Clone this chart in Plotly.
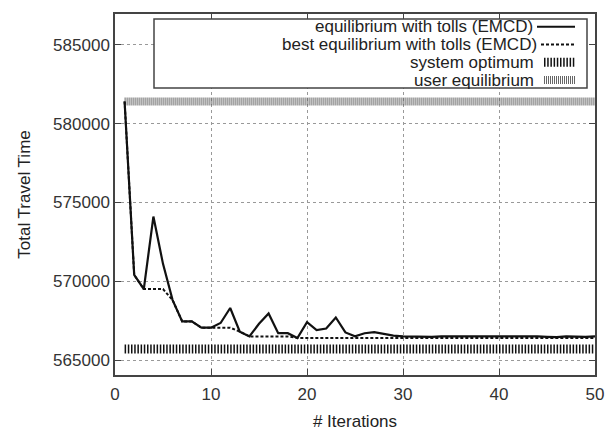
import plotly.graph_objects as go

iterations = list(range(1, 51))
emcd = [581400, 570400, 569500, 574100, 571100, 568800, 567450, 567450, 567050, 567050,
        567350, 568300, 566800, 566500, 567300, 567950, 566700, 566700, 566400, 567400,
        566900, 567000, 567700, 566750, 566500, 566700, 566770, 566650, 566550, 566500,
        566480, 566500, 566470, 566500, 566500, 566480, 566520, 566500, 566480, 566520,
        566500, 566480, 566480, 566500, 566470, 566450, 566500, 566480, 566470, 566500]
best_emcd = [581400, 570400, 569500, 569500, 569500, 568800, 567450, 567450, 567050, 567050,
             567050, 567050, 566800, 566500, 566500, 566500, 566500, 566500, 566400, 566400,
             566400, 566400, 566400, 566400, 566400, 566400, 566400, 566400, 566400, 566400,
             566400, 566400, 566400, 566400, 566400, 566400, 566400, 566400, 566400, 566400,
             566400, 566400, 566400, 566400, 566400, 566400, 566400, 566400, 566400, 566400]
system_optimum = 565700
user_equilibrium = 581400
so_x = [1, 50]
ue_x = [1, 50]

legend_labels = ["equilibrium with tolls (EMCD)", "best equilibrium with tolls (EMCD)",
                 "system optimum", "user equilibrium"]

FONT = "Liberation Sans, Arial, sans-serif"
FS = 17

fig = go.Figure()
fig.add_trace(go.Scatter(x=ue_x, y=[user_equilibrium] * len(ue_x), mode="lines",
                         line=dict(color="#666666", width=8, dash="1px,1px"),
                         showlegend=False))
fig.add_trace(go.Scatter(x=so_x, y=[system_optimum] * len(so_x), mode="lines",
                         line=dict(color="#111111", width=9, dash="1.5px,1.7px"),
                         showlegend=False))
fig.add_trace(go.Scatter(x=iterations, y=best_emcd, mode="lines",
                         line=dict(color="#111111", width=2, dash="3px,2px"),
                         showlegend=False))
fig.add_trace(go.Scatter(x=iterations, y=emcd, mode="lines",
                         line=dict(color="#111111", width=2.2),
                         showlegend=False))

# plot area in pixels: x 115..595, y 12..378
def px(x):
    return (x - 115) / 480.0

def py(y):
    return (378 - y) / 366.0

shapes = [dict(type="rect", xref="paper", yref="paper", x0=px(154), x1=px(587),
               y0=py(87), y1=py(17), line=dict(color="#444444", width=1.5),
               fillcolor="white", layer="above")]
row_y = [25, 43, 61, 79]
text_right = [535, 539, 536, 536]
styles = [dict(color="#111111", width=2, dash="solid", x0=537),
          dict(color="#111111", width=2, dash="3px,2px", x0=541),
          dict(color="#111111", width=9, dash="1.5px,1.7px", x0=544),
          dict(color="#666666", width=8, dash="1px,1px", x0=544)]
annotations = []
for lab, yy, tr, st in zip(legend_labels, row_y, text_right, styles):
    shapes.append(dict(type="line", xref="paper", yref="paper", x0=px(st["x0"]), x1=px(575),
                       y0=py(yy), y1=py(yy), layer="above",
                       line=dict(color=st["color"], width=st["width"], dash=st["dash"])))
    annotations.append(dict(xref="paper", yref="paper", x=px(tr), y=py(yy), text=lab,
                            showarrow=False, xanchor="right", yanchor="middle",
                            font=dict(family=FONT, size=FS, color="#222222")))

fig.update_layout(
    width=616, height=440,
    margin=dict(l=115, r=21, t=12, b=62),
    paper_bgcolor="white", plot_bgcolor="white",
    showlegend=False,
    font=dict(family=FONT, size=FS, color="#333333"),
    shapes=shapes, annotations=annotations,
    xaxis=dict(range=[0, 50], tickvals=[0, 10, 20, 30, 40, 50],
               showgrid=True, gridcolor="#999999", griddash="dot", gridwidth=1,
               showline=True, linecolor="#444444", linewidth=1.5, mirror="ticks",
               ticks="inside", ticklen=6, tickcolor="#444444", zeroline=False,
               ticklabelstandoff=3,
               title=dict(text="# Iterations", font=dict(size=FS, color="#222222"), standoff=12),
               tickfont=dict(size=FS, color="#333333")),
    yaxis=dict(range=[564050, 586950], tickvals=[565000, 570000, 575000, 580000, 585000],
               ticktext=["565000", "570000", "575000", "580000", "585000"],
               showgrid=True, gridcolor="#999999", griddash="dot", gridwidth=1,
               showline=True, linecolor="#444444", linewidth=1.5, mirror="ticks",
               ticks="inside", ticklen=6, tickcolor="#444444", zeroline=False,
               title=dict(text="Total Travel Time", font=dict(size=FS, color="#222222"), standoff=18),
               tickfont=dict(size=FS, color="#333333")),
)

fig.write_html("out.html", config={"displayModeBar": False},
               post_script="document.body.style.margin='0';document.body.style.padding='0';")
